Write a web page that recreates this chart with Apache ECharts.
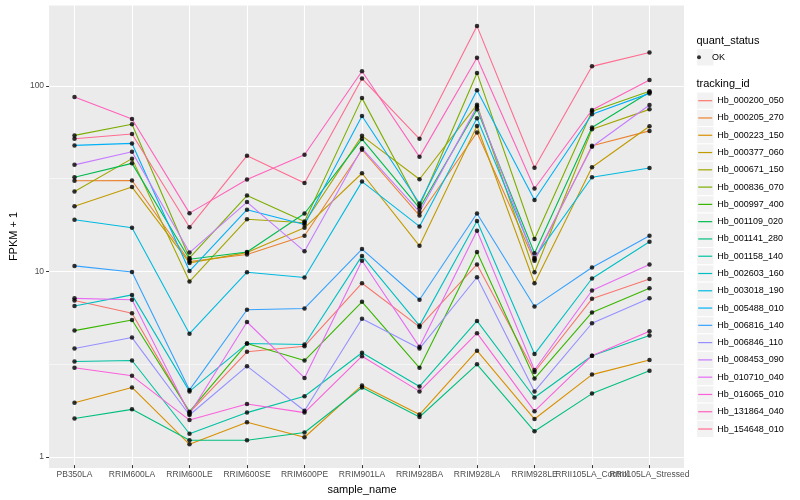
<!DOCTYPE html>
<html><head><meta charset="utf-8">
<script src="https://cdn.jsdelivr.net/npm/echarts@6/dist/echarts.min.js"></script>
<style>html,body{margin:0;padding:0;background:#fff}#c{width:800px;height:500px}</style>
</head><body><div id="c"></div>
<script>
const categories = ['PB350LA','RRIM600LA','RRIM600LE','RRIM600SE','RRIM600PE','RRIM901LA','RRIM928BA','RRIM928LA','RRIM928LE','RRII105LA_Control','RRII105LA_Stressed'];
const trackingIds = ['Hb_000200_050','Hb_000205_270','Hb_000223_150','Hb_000377_060','Hb_000671_150','Hb_000836_070','Hb_000997_400','Hb_001109_020','Hb_001141_280','Hb_001158_140','Hb_002603_160','Hb_003018_190','Hb_005488_010','Hb_006816_140','Hb_006846_110','Hb_008453_090','Hb_010710_040','Hb_016065_010','Hb_131864_040','Hb_154648_010'];
const quantStatus = ['OK'];

// FPKM + 1 per sample (order of categories)
const Hb_000200_050 = [6.82, 5.81, 1.68, 3.59, 3.85, 8.46, 4.90, 10.7, 2.79, 6.96, 8.92];
const Hb_000205_270 = [30.4, 30.5, 11.1, 12.1, 15.3, 44.8, 19.7, 55.6, 11.2, 47.1, 56.7];
const Hb_000223_150 = [1.90, 2.30, 1.13, 1.49, 1.235, 2.36, 1.64, 3.64, 1.55, 2.70, 3.24];
const Hb_000377_060 = [22.1, 28.1, 10.9, 12.4, 16.9, 33.4, 13.5, 60.3, 8.46, 36.0, 60.1];
const Hb_000671_150 = [26.6, 40.1, 8.63, 18.8, 18.0, 53.3, 31.0, 78.7, 9.7, 57.9, 74.2];
const Hb_000836_070 = [53.6, 61.6, 11.6, 25.3, 18.3, 85.4, 22.2, 117, 14.7, 72.5, 93.1];
const Hb_000997_400 = [4.68, 5.34, 1.70, 3.98, 3.22, 6.7, 2.94, 12.5, 2.57, 5.87, 7.95];
const Hb_001109_020 = [31.8, 37.8, 11.4, 12.5, 20.2, 51.2, 21.6, 74.2, 12.3, 59.2, 92.0];
const Hb_001141_280 = [1.56, 1.75, 1.19, 1.19, 1.31, 2.30, 1.59, 3.07, 1.33, 2.13, 2.83];
const Hb_001158_140 = [3.18, 3.22, 1.29, 1.68, 2.06, 3.55, 2.33, 5.28, 2.03, 3.42, 4.40];
const Hb_002603_160 = [6.36, 7.31, 2.19, 3.98, 3.93, 11.9, 4.98, 18.4, 3.49, 8.97, 14.2];
const Hb_003018_190 = [18.7, 16.9, 4.5, 9.7, 9.08, 30.1, 17.2, 66.4, 11.6, 31.8, 35.7];
const Hb_005488_010 = [47.3, 48.5, 9.85, 21.2, 17.6, 68.3, 22.9, 94.3, 23.9, 69.8, 90.6];
const Hb_006816_140 = [10.5, 9.73, 2.23, 6.07, 6.17, 12.95, 6.88, 20.2, 6.33, 10.3, 15.3];
const Hb_006846_110 = [3.74, 4.29, 1.63, 3.0, 1.72, 5.43, 3.74, 9.11, 2.19, 5.13, 7.0];
const Hb_008453_090 = [37.1, 43.7, 12.4, 23.3, 12.6, 45.6, 20.6, 76.8, 11.4, 46.5, 78.3];
const Hb_010710_040 = [7.0, 6.88, 1.65, 5.21, 2.59, 11.2, 3.82, 16.3, 2.86, 7.72, 10.7];
const Hb_016065_010 = [2.94, 2.66, 1.53, 1.87, 1.68, 3.40, 2.19, 4.53, 1.71, 3.42, 4.64];
const Hb_131864_040 = [86.5, 65.8, 20.3, 30.9, 42.1, 119.4, 41.0, 141.5, 27.6, 73.6, 107];
const Hb_154648_010 = [51.4, 54.6, 17.0, 41.6, 29.6, 109, 51.4, 210, 35.8, 127, 151];

const seriesValues = [Hb_000200_050, Hb_000205_270, Hb_000223_150, Hb_000377_060, Hb_000671_150, Hb_000836_070, Hb_000997_400, Hb_001109_020, Hb_001141_280, Hb_001158_140, Hb_002603_160, Hb_003018_190, Hb_005488_010, Hb_006816_140, Hb_006846_110, Hb_008453_090, Hb_010710_040, Hb_016065_010, Hb_131864_040, Hb_154648_010];
const yTickValues = [1, 10, 100];

// styling
const colors = ['#F8766D','#EA8331','#D89000','#C09B00','#A3A500','#7CAE00','#39B600','#00BB4E','#00BF7D','#00C1A3','#00BFC4','#00BAE0','#00B0F6','#35A2FF','#9590FF','#C77CFF','#E76BF3','#FA62DB','#FF62BC','#FF6C91'];
const FONT = '"Liberation Sans", Arial, Helvetica, sans-serif';
const yMin = 0.872, yMax = 273.3;
const keyH = 17.28;
const idTop = 92.06;
const okTop = 48.66;

const chart = echarts.init(document.getElementById('c'), null, {renderer: 'canvas'});

const lineSeries = trackingIds.map((id, i) => ({
  name: id, type: 'line', xAxisIndex: 1, yAxisIndex: 2,
  data: seriesValues[i], symbol: 'none', showSymbol: false,
  lineStyle: {width: 1.1, color: colors[i]}, itemStyle: {color: colors[i]},
  z: 2, silent: true, animation: false
}));
const pointData = [];
seriesValues.forEach(arr => arr.forEach((v, j) => pointData.push([j, v])));
const pointSeries = {
  name: 'OK', type: 'scatter', xAxisIndex: 1, yAxisIndex: 2,
  data: pointData, symbol: 'circle', symbolSize: 4.5,
  itemStyle: {color: '#000'}, z: 3, silent: true, animation: false
};

const graphics = [];
graphics.push({type: 'rect', shape: {x: 696.7, y: okTop, width: keyH, height: keyH}, style: {fill: '#F2F2F2', stroke: '#fff', lineWidth: 1}, z: 0});
trackingIds.forEach((id, i) => {
  graphics.push({type: 'rect', shape: {x: 696.7, y: idTop + keyH * i, width: keyH, height: keyH}, style: {fill: '#F2F2F2', stroke: '#fff', lineWidth: 1}, z: 0});
});
graphics.push({type: 'text', x: 696.5, y: 40.7, style: {text: 'quant_status', font: '11px ' + FONT, fill: '#000', verticalAlign: 'middle'}, z: 5});
graphics.push({type: 'text', x: 696.5, y: 84, style: {text: 'tracking_id', font: '11px ' + FONT, fill: '#000', verticalAlign: 'middle'}, z: 5});

chart.setOption({
  animation: false,
  textStyle: {fontFamily: FONT},
  grid: [
    {left: 40, top: 5, width: 644, height: 463, show: true, backgroundColor: '#EBEBEB', borderWidth: 0},
    {left: 74.5, top: 5, width: 575, height: 463, show: false}
  ],
  xAxis: [
    {gridIndex: 0, type: 'value', min: 0, max: 1, show: false},
    {gridIndex: 1, type: 'category', data: categories, boundaryGap: false,
     axisLine: {show: false},
     axisTick: {show: true, length: 3, lineStyle: {color: '#333333', width: 1}},
     axisLabel: {interval: 0, hideOverlap: false, color: '#4D4D4D', fontSize: 8.5, margin: 5, fontFamily: FONT},
     splitLine: {show: true, lineStyle: {color: '#FFFFFF', width: 1.1}},
     name: 'sample_name', nameLocation: 'middle', nameGap: 16,
     nameTextStyle: {fontSize: 11, color: '#000', fontFamily: FONT}}
  ],
  yAxis: [
    {gridIndex: 0, type: 'log', logBase: 10, min: yMin, max: yMax, position: 'left',
     axisLine: {show: false},
     axisTick: {show: true, length: 3, customValues: yTickValues, lineStyle: {color: '#333333', width: 1}},
     axisLabel: {show: true, customValues: yTickValues, color: '#4D4D4D', fontSize: 8.5, margin: 5, fontFamily: FONT},
     splitLine: {show: true, lineStyle: {color: '#FFFFFF', width: 1.1}},
     name: 'FPKM + 1', nameLocation: 'middle', nameGap: 25, nameRotate: 90,
     nameTextStyle: {fontSize: 11, color: '#000', fontFamily: FONT}},
    {gridIndex: 0, type: 'log', logBase: Math.sqrt(10), min: yMin, max: yMax, position: 'right',
     axisLine: {show: false}, axisTick: {show: false}, axisLabel: {show: false},
     splitLine: {show: true, lineStyle: {color: '#FFFFFF', width: 0.55}}},
    {gridIndex: 1, type: 'log', logBase: 10, min: yMin, max: yMax, show: false}
  ],
  legend: [
    {data: quantStatus, orient: 'vertical', left: 697, top: okTop, padding: 0, itemGap: 0,
     icon: 'circle', itemWidth: 16, itemHeight: 4, selectedMode: false,
     textStyle: {fontSize: 9, color: '#000', lineHeight: keyH, fontFamily: FONT}},
    {data: trackingIds, orient: 'vertical', left: 698.2, top: idTop, padding: 0, itemGap: 0,
     icon: 'rect', itemWidth: 14, itemHeight: 1.2, selectedMode: false,
     textStyle: {fontSize: 9, color: '#000', lineHeight: keyH, fontFamily: FONT}}
  ],
  graphic: graphics,
  series: lineSeries.concat([pointSeries])
});
</script>
</body></html>
